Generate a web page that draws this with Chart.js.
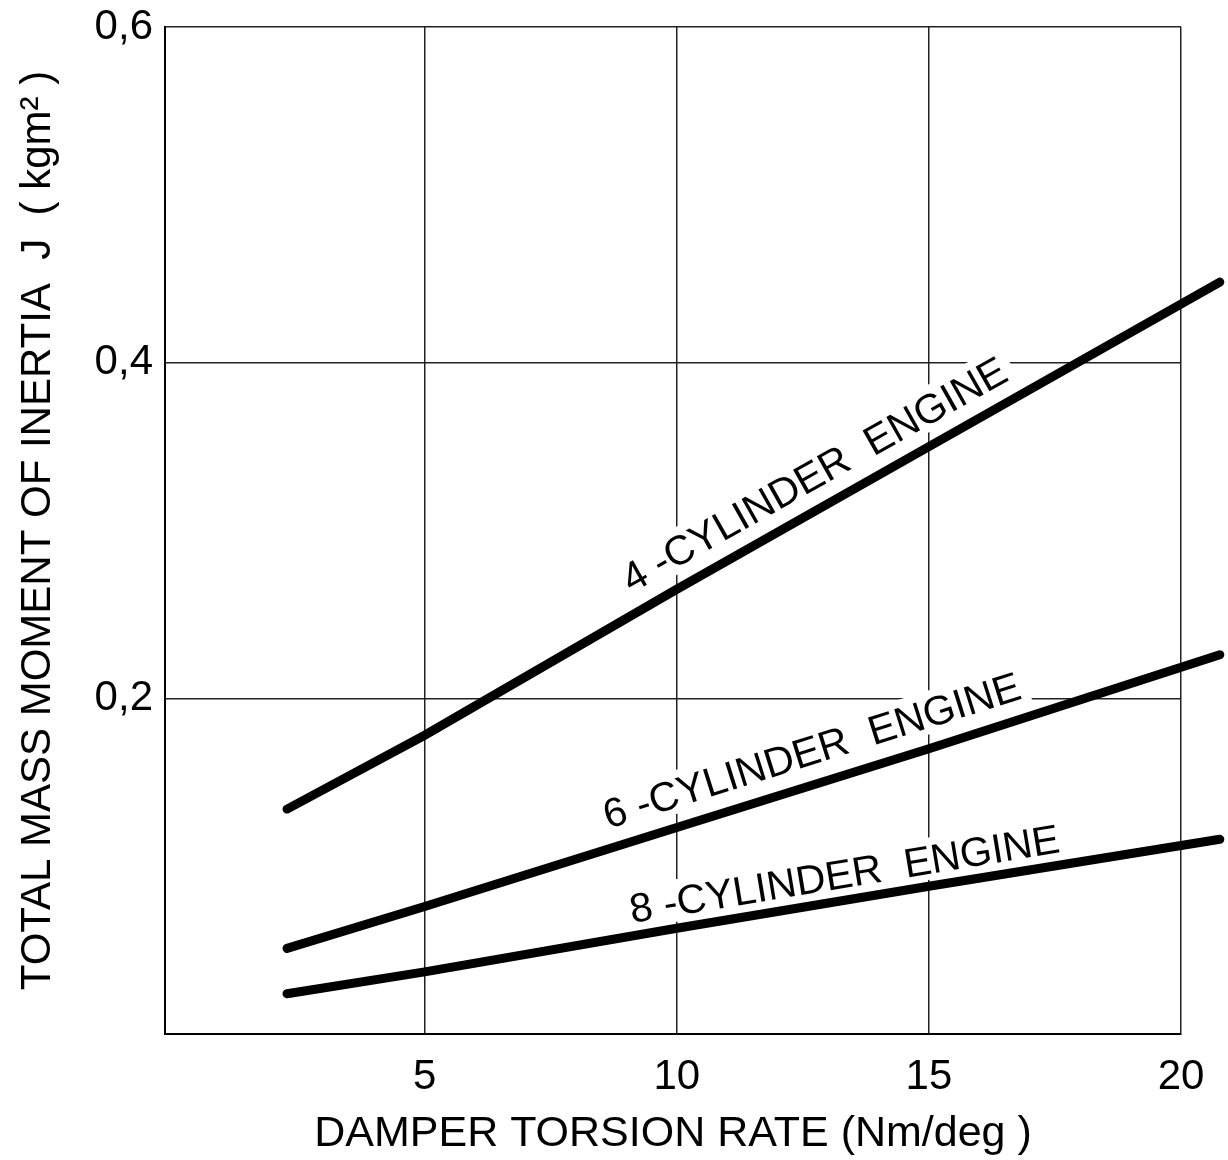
<!DOCTYPE html>
<html>
<head>
<meta charset="utf-8">
<script src="https://cdn.jsdelivr.net/npm/chart.js@4.4.1/dist/chart.umd.min.js"></script>
<style>
  html, body { margin: 0; padding: 0; background: #fff; }
</style>
</head>
<body>
<canvas id="chart" width="1228" height="1160"></canvas>
<script>
// damper torsion rate (Nm/deg) where the curves were read
// (last point lies past the 20 gridline, the curves run off the frame)
const torsionRate = [2.27, 5, 10, 15, 20.77];
// total mass moment of inertia J (kgm2)
const inertia4Cyl = [0.134, 0.178, 0.265, 0.350, 0.448];
const inertia6Cyl = [0.051, 0.076, 0.123, 0.170, 0.226];
const inertia8Cyl = [0.024, 0.037, 0.063, 0.088, 0.116];

const seriesNames = ['4 -CYLINDER  ENGINE', '6 -CYLINDER  ENGINE', '8 -CYLINDER  ENGINE'];
const xTicks = [5, 10, 15, 20];
const yTicks = [0.2, 0.4, 0.6];

// where each curve label starts (x value) and how far above the curve (px)
const labelPlace = [
    { x: 9.1, lift: 22 },
    { x: 8.64, lift: 20 },
    { x: 9.11, lift: 13 }
];

const FONT = '"Liberation Sans", Arial, sans-serif';

const whiteBg = {
    id: 'whiteBg',
    beforeDraw(chart) {
        const ctx = chart.ctx;
        ctx.save();
        ctx.fillStyle = '#fff';
        ctx.fillRect(0, 0, chart.width, chart.height);
        ctx.restore();
    }
};

function valueOnCurve(points, x) {
    for (let i = 1; i < points.length; i++) {
        const a = points[i - 1], b = points[i];
        if (x <= b.x) {
            return a.y + (b.y - a.y) * (x - a.x) / (b.x - a.x);
        }
    }
    return points[points.length - 1].y;
}

// curve names written along each line
const curveLabels = {
    id: 'curveLabels',
    beforeDatasetsDraw(chart) {
        const ctx = chart.ctx;
        const xs = chart.scales.x, ys = chart.scales.y;
        ctx.save();
        ctx.font = '41px ' + FONT;
        ctx.textBaseline = 'alphabetic';
        chart.data.datasets.forEach((ds, i) => {
            const pts = ds.data;
            const first = pts[0], last = pts[pts.length - 1];
            const ang = Math.atan2(
                ys.getPixelForValue(last.y) - ys.getPixelForValue(first.y),
                xs.getPixelForValue(last.x) - xs.getPixelForValue(first.x)
            );
            const place = labelPlace[i];
            const px = xs.getPixelForValue(place.x);
            const py = ys.getPixelForValue(valueOnCurve(pts, place.x)) - place.lift;
            const w = ctx.measureText(ds.label).width;
            ctx.save();
            ctx.translate(px, py);
            ctx.rotate(ang);
            ctx.fillStyle = '#fff';
            ctx.fillRect(-8, -36, w + 16, 42);
            ctx.fillStyle = '#000';
            ctx.fillText(ds.label, 0, 0);
            ctx.restore();
        });
        ctx.restore();
    }
};

function curve(values) {
    return torsionRate.map((x, i) => ({ x: x, y: values[i] }));
}

function lineSet(name, values) {
    return {
        label: name,
        data: curve(values),
        borderColor: '#000',
        borderWidth: 9,
        borderCapStyle: 'round',
        pointRadius: 0,
        tension: 0,
        clip: false
    };
}

// the frame is placed by layout padding, not by tick label overhang
function noEdgePadding(s) {
    s.paddingTop = 0;
    s.paddingBottom = 0;
    s.paddingLeft = 0;
    s.paddingRight = 0;
}

new Chart(document.getElementById('chart'), {
    type: 'line',
    data: {
        datasets: [
            lineSet(seriesNames[0], inertia4Cyl),
            lineSet(seriesNames[1], inertia6Cyl),
            lineSet(seriesNames[2], inertia8Cyl)
        ]
    },
    options: {
        responsive: false,
        animation: false,
        devicePixelRatio: 1,
        layout: { padding: { top: 27, right: 47, left: 0, bottom: 0 } },
        plugins: {
            legend: { display: false },
            tooltip: { enabled: false }
        },
        scales: {
            x: {
                type: 'linear',
                min: -0.15,
                max: 20,
                afterBuildTicks: (s) => { s.ticks = xTicks.map(v => ({ value: v })); },
                afterFit: (s) => { s.height = 126; noEdgePadding(s); },
                ticks: {
                    color: '#000',
                    font: { family: FONT, size: 42 },
                    padding: 18,
                    maxRotation: 0,
                    autoSkip: false,
                    callback: (v) => String(v)
                },
                grid: { color: '#222', lineWidth: 1.5, drawTicks: false },
                border: { color: '#000', width: 2 },
                title: {
                    display: true,
                    text: 'DAMPER TORSION RATE (Nm/deg )',
                    color: '#000',
                    font: { family: FONT, size: 43 },
                    padding: { top: 0, bottom: 0 }
                }
            },
            y: {
                min: 0,
                max: 0.6,
                afterBuildTicks: (s) => { s.ticks = yTicks.map(v => ({ value: v })); },
                afterFit: (s) => { s.width = 165; noEdgePadding(s); },
                ticks: {
                    color: '#000',
                    font: { family: FONT, size: 42 },
                    padding: 12,
                    callback: (v) => v.toFixed(1).replace('.', ',')
                },
                grid: { color: '#222', lineWidth: 1.5, drawTicks: false },
                border: { color: '#000', width: 2 },
                title: {
                    display: true,
                    text: 'TOTAL MASS MOMENT OF INERTIA  J  ( kgm² )',
                    color: '#000',
                    font: { family: FONT, size: 42 },
                    padding: { top: 13, bottom: 0 }
                }
            }
        }
    },
    plugins: [whiteBg, curveLabels]
});
</script>
</body>
</html>
